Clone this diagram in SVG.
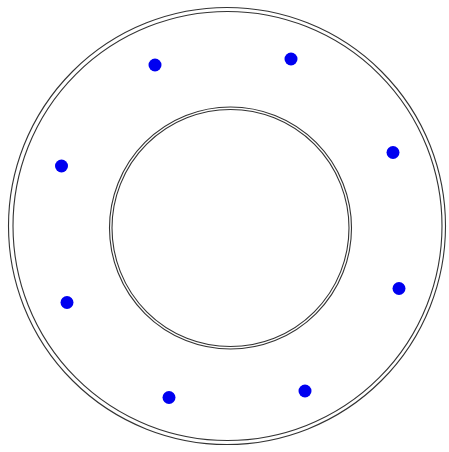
<svg xmlns="http://www.w3.org/2000/svg" width="449" height="452" viewBox="0 0 449 452">
<style>
.ring{fill:none;stroke:#333;stroke-width:1.1}
.dot{fill:#0000f0}
</style>
<rect width="449" height="452" fill="#fff"/>
<g id="outer">
<circle class="ring" cx="227" cy="226" r="218.5"/>
<circle class="ring" cx="227.5" cy="226" r="214.5"/>
</g>
<g id="inner">
<circle class="ring" cx="230.5" cy="228" r="121"/>
<circle class="ring" cx="230.5" cy="228" r="118.5"/>
</g>
<g id="dots">
<circle class="dot" cx="155" cy="65" r="6.5"/>
<circle class="dot" cx="291" cy="59" r="6.5"/>
<circle class="dot" cx="61.5" cy="166" r="6.5"/>
<circle class="dot" cx="393" cy="152.5" r="6.5"/>
<circle class="dot" cx="67" cy="302.5" r="6.5"/>
<circle class="dot" cx="399" cy="288.5" r="6.5"/>
<circle class="dot" cx="169" cy="397.5" r="6.5"/>
<circle class="dot" cx="305" cy="391" r="6.5"/>
</g>
</svg>
